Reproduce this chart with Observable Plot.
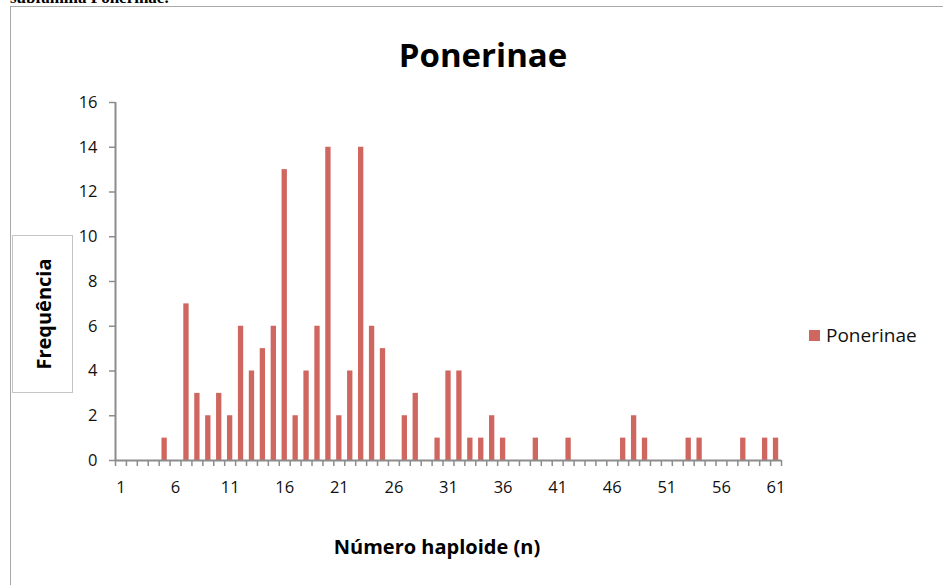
<!DOCTYPE html>
<html>
<head>
<meta charset="utf-8">
<script src="https://cdn.jsdelivr.net/npm/d3@7"></script>
<script src="https://cdn.jsdelivr.net/npm/@observablehq/plot@0.6"></script>
<style>
  html, body { margin: 0; padding: 0; background: #fff; }
  #wrap { position: relative; width: 943px; height: 585px; overflow: hidden; font-family: "Open Sans", sans-serif; color: #111; }
  #wrap svg { position: absolute; left: 0; top: 0; }
  .abs { position: absolute; white-space: nowrap; }
</style>
</head>
<body>
<div id="wrap">
  <div class="abs" style="left:10px; top:6px; width:960px; height:600px; border:1px solid #a8a8a8; border-right:none; border-bottom:none; box-sizing:border-box;"></div>
  <div class="abs" id="pretext" style="left:10px; top:-12px; font-family:'Liberation Serif',serif; font-size:17px; font-weight:bold; color:#000;"></div>
</div>
<script>
// ---- data ----
const categories = d3.range(1, 62); // haploid numbers 1..61
const frequencies = [
  0, 0, 0, 0, 1, 0, 7, 3, 2, 3,   // 1-10
  2, 6, 4, 5, 6, 13, 2, 4, 6, 14, // 11-20
  2, 4, 14, 6, 5, 0, 2, 3, 0, 1,  // 21-30
  4, 4, 1, 1, 2, 1, 0, 0, 1, 0,   // 31-40
  0, 1, 0, 0, 0, 0, 1, 2, 1, 0,   // 41-50
  0, 0, 1, 1, 0, 0, 0, 1, 0, 1,   // 51-60
  1                               // 61
];
const xTickLabels = [1, 6, 11, 16, 21, 26, 31, 36, 41, 46, 51, 56, 61];
const yTicks = [0, 2, 4, 6, 8, 10, 12, 14, 16];
const seriesName = "Ponerinae";
const titleText = "Ponerinae";
const xLabel = "Número haploide (n)";
const yLabel = "Frequência";
const preText = "subfamília Ponerinae.";

const data = categories.map((n, i) => ({n, f: frequencies[i]}));
const boundaries = d3.range(0.5, 62, 1);
const barColor = "#cf665f";
const axisColor = "#8c8c8c";

const chart = Plot.plot({
  width: 943,
  height: 585,
  marginLeft: 115,
  marginRight: 162,
  marginTop: 102,
  marginBottom: 125,
  style: {fontFamily: "'Open Sans', sans-serif", fontSize: "15px", color: "#111", background: "transparent"},
  x: {type: "linear", domain: [0.5, 61.5]},
  y: {domain: [0, 16]},
  marks: [
    Plot.rectY(data.filter(d => d.f > 0), {x1: d => d.n - 0.5, x2: d => d.n + 0.5, y1: 0, y2: "f", fill: barColor, insetLeft: 2.8, insetRight: 2.8}),
    Plot.axisY({ticks: yTicks, tickSize: 6, tickPadding: 12, stroke: axisColor, strokeWidth: 1.5, fontSize: 16.5, label: null}),
    Plot.axisX({ticks: boundaries, tickSize: 6, tickFormat: () => "", stroke: axisColor, strokeWidth: 1.5, label: null}),
    Plot.axisX({ticks: xTickLabels, tickSize: 0, tickPadding: 21, fontSize: 16.5, label: null}),
    Plot.ruleX([0.5], {stroke: axisColor, strokeWidth: 2}),
    Plot.ruleY([0], {stroke: axisColor, strokeWidth: 2})
  ]
});
const wrap = document.getElementById("wrap");
wrap.insertBefore(chart, wrap.children[1]);

document.getElementById("pretext").textContent = preText;

function addDiv(style) {
  const d = document.createElement("div");
  d.className = "abs";
  d.style.cssText = style;
  wrap.appendChild(d);
  return d;
}
const t = addDiv("left:0; width:966px; text-align:center; top:32px; font-size:33px; font-weight:bold; color:#000;");
t.textContent = titleText;
const xl = addDiv("left:237px; width:400px; text-align:center; top:533px; font-size:20px; font-weight:bold; color:#000;");
xl.textContent = xLabel;
const yb = addDiv("left:12px; top:235px; width:61px; height:158px; border:1px solid #c4c4c4; box-sizing:border-box;");
const yl = document.createElement("div");
yl.style.cssText = "position:absolute; left:50%; top:50%; transform:translate(-50%,-50%) rotate(-90deg); font-size:20px; font-weight:bold; color:#000; white-space:nowrap;";
yl.textContent = yLabel;
yb.appendChild(yl);
const lg = addDiv("left:809px; top:322px; font-size:19px; color:#111; display:flex; align-items:center;");
const sw = document.createElement("span");
sw.style.cssText = "display:inline-block; width:11px; height:11px; background:" + barColor + "; margin-right:6px;";
const lt = document.createElement("span");
lt.textContent = seriesName;
lg.appendChild(sw); lg.appendChild(lt);
</script>
</body>
</html>
